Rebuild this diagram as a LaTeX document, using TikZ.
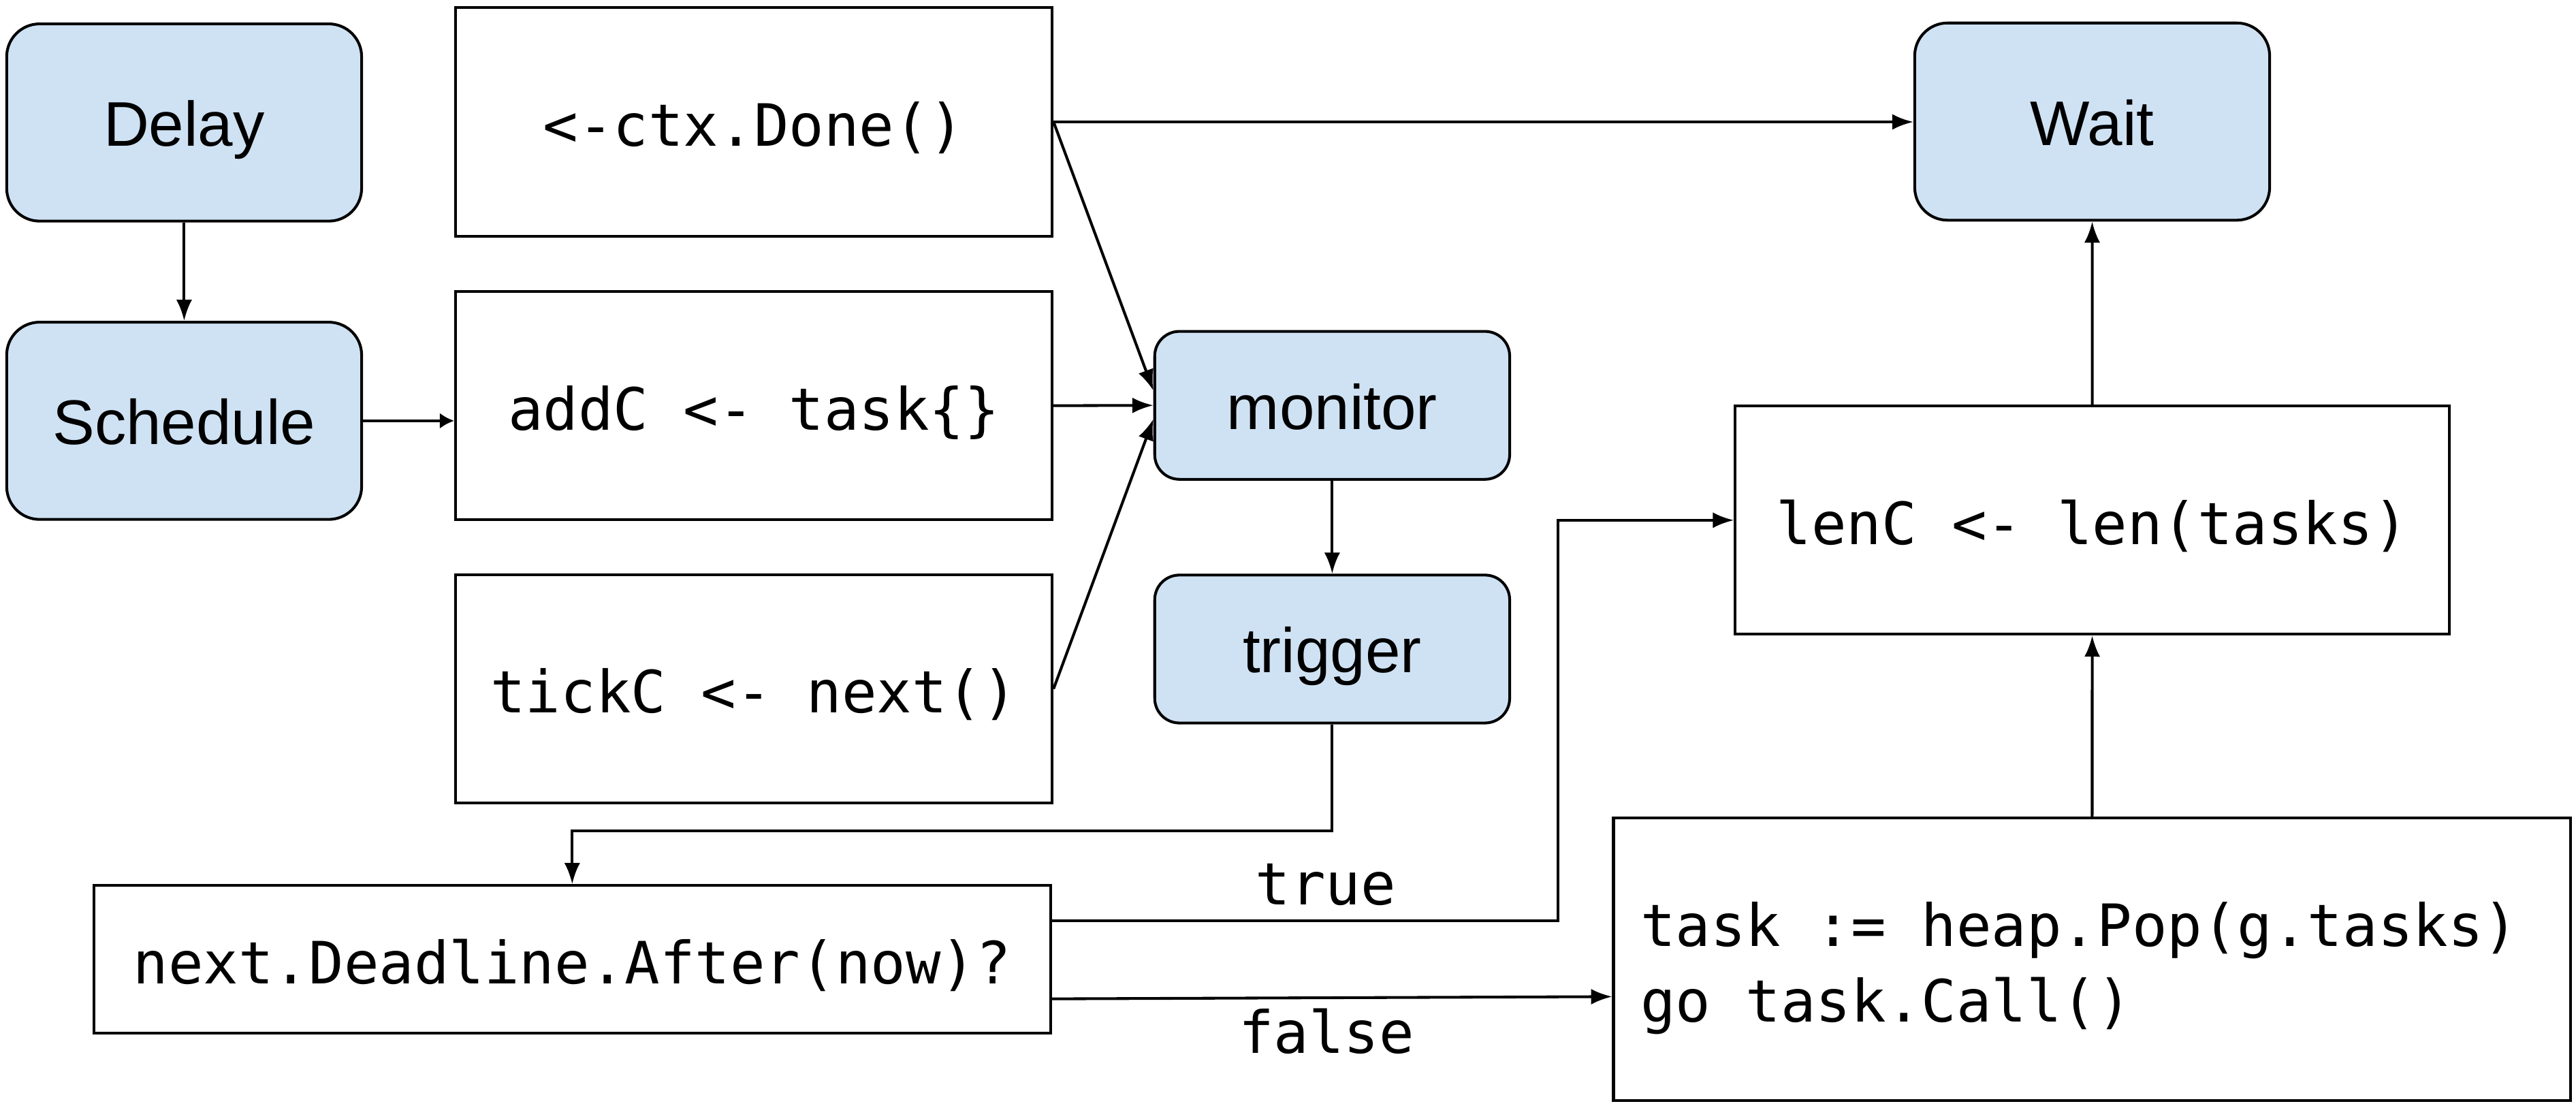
\documentclass[tikz,border=0pt]{standalone}
\usepackage{fontspec}
\setmainfont{Liberation Sans}
\newfontfamily\dgmonofam{DejaVu Sans Mono}
\newcommand\dgmono{\dgmonofam\fontsize{25.25pt}{32.6pt}\selectfont}
\newcommand\dgsans{\fontsize{27.3pt}{33pt}\selectfont}
\usetikzlibrary{arrows.meta}
\definecolor{boxblue}{RGB}{207,226,243}
\begin{document}
\begin{tikzpicture}[x=0.025cm, y=-0.025cm,
  bluebox/.style={draw, line width=1.2pt, fill=boxblue, inner sep=0pt,
    font=\dgsans, text height=0.725cm, text depth=0cm},
  bigblue/.style={bluebox, minimum width=5.4cm, minimum height=3cm, rounded corners=0.5cm},
  smallblue/.style={bluebox, minimum width=5.4cm, minimum height=2.25cm, rounded corners=0.375cm},
  codebox/.style={draw, line width=1.2pt, fill=white, inner sep=0pt,
    font=\dgmono, text height=0.735cm, text depth=0cm},
  chanbox/.style={codebox, minimum width=9.075cm, minimum height=3.475cm},
  lbl/.style={inner sep=0pt, font=\dgmono, anchor=base},
  conn/.style={line width=1.2pt, -{Latex[length=0.32cm,width=0.24cm]}},
  shortconn/.style={line width=1.2pt, -{Latex[length=0.22cm,width=0.24cm]}}]
\useasboundingbox (0,0) rectangle (1568,673.12);

% left column
\node[bigblue] (delay) at (112.1,74.55) {Delay};
\node[bigblue] (schedule) at (112.1,256.1) {Schedule};

% channel boxes
\node[chanbox] (done) at (458.9,74.2) {<-ctx.Done()};
\node[chanbox] (addc) at (458.9,246.9) {addC <- task\{\}};
\node[chanbox] (tick) at (458.9,419.25) {tickC <- next()};

% monitor / trigger
\node[smallblue] (monitor) at (810.9,246.7) {monitor};
\node[smallblue] (trigger) at (810.9,395) {trigger};

% right column
\node[bigblue] (wait) at (1273.5,74) {Wait};
\node[codebox, minimum width=10.8625cm, minimum height=3.47cm] (lenc) at (1273.55,316.6) {lenC <- len(tasks)};
\node[codebox, minimum width=14.5625cm, minimum height=4.2975cm,
      text width=13.7425cm, align=left, inner xsep=0.41cm,
      text height=0.73cm, text depth=1.1225cm] (task) at (1273.45,583.75)
      {\spaceskip=\fontdimen2\font\xspaceskip=\fontdimen2\font
       task := heap.Pop(g.tasks)\\go task.Call()};

% decision
\node[codebox, minimum width=14.56cm, minimum height=2.25cm] (next) at (348.3,583.9) {next.Deadline.After(now)?};

% labels
\node[lbl] (truelbl) at (807,550.5) {true};
\node[lbl] (falselbl) at (807.5,641) {false};

% helper coordinates
\coordinate (tbend) at (810.9,505.7);
\coordinate (trueturn) at (948.3,560.3);

% connectors
\draw[conn] (delay) -- (schedule);
\draw[shortconn] (schedule.east) -- (schedule.east -| addc.west);
\draw[conn] (done.east) -- (done.east -| wait.west);
\draw[conn] (done.east) -- ([yshift=0.225cm]monitor.west);
\draw[conn] (addc.east) -- (monitor.west);
\draw[conn] (tick.east) -- ([yshift=-0.21cm]monitor.west);
\draw[conn] (monitor) -- (trigger);
\draw[conn] (trigger.south) -- (trigger.south |- tbend) -| (next.north);
\draw[conn] (next.east |- trueturn) -- (trueturn) |- (lenc.west);
\draw[conn] ([yshift=-0.6cm]next.east) -- ([yshift=-0.57cm]task.west);
\draw[conn] (task) -- (lenc);
\draw[conn] (lenc) -- (wait);
\end{tikzpicture}
\end{document}
